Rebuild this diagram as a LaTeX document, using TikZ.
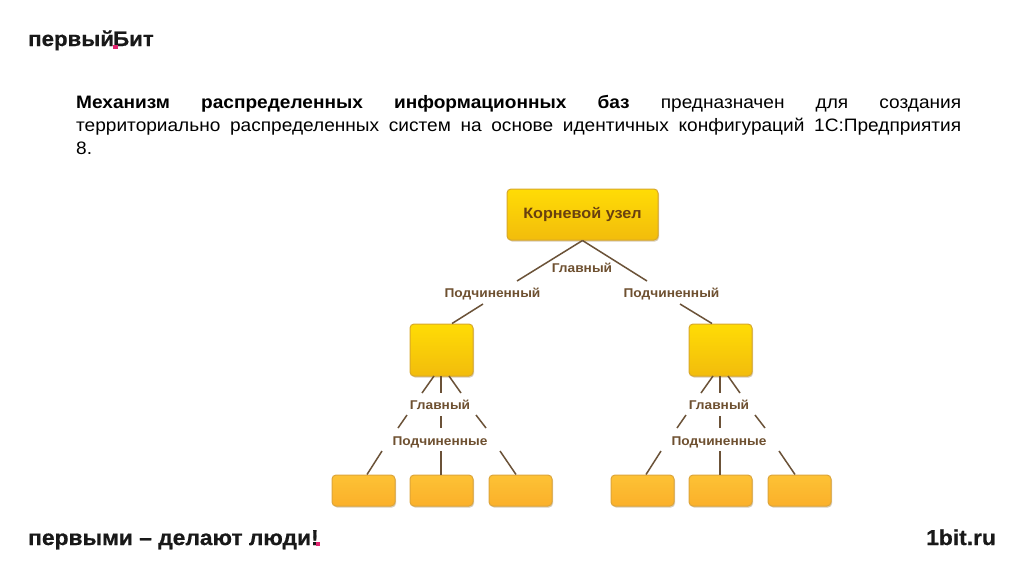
\documentclass[tikz,border=0pt]{standalone}
\usepackage{fontspec}
\setmainfont[FakeStretch=1.06]{Liberation Sans}
\newfontfamily\logofont[FakeStretch=1.06,FakeBold=0.6]{Liberation Sans}
\newfontfamily\labfont[FakeStretch=1.08]{Liberation Sans}
\usetikzlibrary{shadows}
\definecolor{linebrown}{HTML}{6B5238}
\definecolor{labelbrown}{HTML}{6E5030}
\definecolor{rootbrown}{HTML}{694010}
\definecolor{edgegold}{HTML}{D8A82A}
\definecolor{edgeorange}{HTML}{DDA53A}
\definecolor{pinkdot}{HTML}{E0246E}
\definecolor{yellowtop}{HTML}{FFDC05}
\definecolor{yellowbot}{HTML}{F2BC0C}
\definecolor{leaftop}{HTML}{FDC235}
\definecolor{leafbot}{HTML}{FBB02A}
\definecolor{shadowtan}{HTML}{B9A57F}
\tikzset{
  x=1pt,y=-1pt,
  boxbase/.style={rounded corners=4pt,line width=1pt,inner sep=0pt,
    drop shadow={shadow xshift=1pt,shadow yshift=-1.5pt,fill=shadowtan,opacity=.55}},
  yellowbox/.style={boxbase,draw=edgegold,top color=yellowtop,bottom color=yellowbot},
  leafbox/.style={boxbase,draw=edgeorange,minimum width=63pt,minimum height=31pt,
    top color=leaftop,bottom color=leafbot},
  midbox/.style={yellowbox,minimum width=63pt,minimum height=52pt},
  link/.style={draw=linebrown,line width=1.5pt},
  lab/.style={inner sep=0pt,font=\labfont\bfseries\fontsize{12.7}{14}\selectfont,text=labelbrown},
  brand/.style={inner sep=0pt,anchor=base west,font=\logofont\bfseries\fontsize{#1}{#1}\selectfont,text=black!90}
}
\begin{document}
\begin{tikzpicture}
\useasboundingbox (0,0) rectangle (1024,574);
\fill[white] (0,0) rectangle (1024,574);
% logo
\node[brand=21] (logoa) at (28,46) {первый};
\node[brand=21] (logob) at (113,46) {Бит};
\node[fill=pinkdot,minimum size=4.5pt,inner sep=0pt] (logodot) at (115.5,47) {};
% heading
\node[inner sep=0pt,anchor=north west,text width=885pt,align=justify,
  font=\fontsize{18}{23}\selectfont] (heading) at (76,95.5)
  {\textbf{Механизм распределенных информационных баз} предназначен для создания\linebreak
   территориально распределенных систем на основе идентичных конфигураций 1С:Предприятия\linebreak
   8.};
% root
\node[yellowbox,minimum width=151pt,minimum height=51pt] (root) at (582.5,214.5)
  {\labfont\bfseries\fontsize{15}{16}\selectfont\color{rootbrown}Корневой узел};
\node[lab] (main) at (582,268) {Главный};
\node[lab] (subl) at (492.5,294) {Подчиненный};
\node[lab] (subr) at (671.5,294) {Подчиненный};
\node[midbox] (midl) at (441.5,350) {};
\node[midbox] (midr) at (720.5,350) {};
\coordinate (ra) at (517,281);
\coordinate (rb) at (647,281);
\coordinate (rc) at (483,304);
\coordinate (rd) at (680,304);
\coordinate (re) at (452,323.5);
\coordinate (rf) at (712,323.5);
\draw[link] (root.south) -- (ra);
\draw[link] (root.south) -- (rb);
\draw[link] (rc) -- (re);
\draw[link] (rd) -- (rf);
% two subtrees
\foreach \s/\dx in {l/0,r/279}{
  \begin{scope}[xshift=\dx pt]
    \node[lab] (m\s) at (440,405) {Главный};
    \node[lab] (p\s) at (440,442) {Подчиненные};
    \node[leafbox] (a\s) at (363.5,490.5) {};
    \node[leafbox] (b\s) at (441.5,490.5) {};
    \node[leafbox] (c\s) at (520.5,490.5) {};
    \coordinate (t1\s) at (434,376);
    \coordinate (t2\s) at (441,376);
    \coordinate (t3\s) at (449,376);
    \coordinate (u1\s) at (422,393);
    \coordinate (u2\s) at (441,393);
    \coordinate (u3\s) at (461,393);
    \coordinate (v1\s) at (407,415);
    \coordinate (v2\s) at (441,416);
    \coordinate (v3\s) at (476,415);
    \coordinate (w1\s) at (398,428);
    \coordinate (w2\s) at (441,428);
    \coordinate (w3\s) at (486,428);
    \coordinate (x1\s) at (382,451);
    \coordinate (x2\s) at (441,451);
    \coordinate (x3\s) at (500,451);
    \coordinate (y1\s) at (367,474.5);
    \coordinate (y2\s) at (441,474.5);
    \coordinate (y3\s) at (516,474.5);
    \foreach \i in {1,2,3}{
      \draw[link] (t\i\s) -- (u\i\s);
      \draw[link] (v\i\s) -- (w\i\s);
      \draw[link] (x\i\s) -- (y\i\s);
    }
  \end{scope}
}
% footer
\node[brand=21.5] (slogan) at (28,545) {первыми – делают люди!};
\node[fill=pinkdot,minimum width=4pt,minimum height=4pt,inner sep=0pt] (slogandot) at (317.5,544) {};
\node[brand=21.5] (site) at (926,545) {1bit.ru};
\end{tikzpicture}
\end{document}
